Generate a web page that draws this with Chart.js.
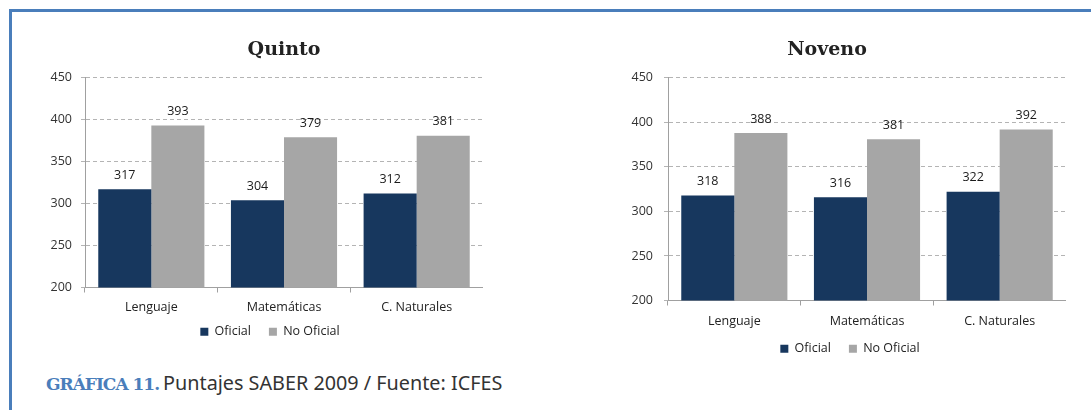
<!DOCTYPE html>
<html>
<head>
<meta charset="utf-8">
<script src="https://cdn.jsdelivr.net/npm/chart.js@4.4.1/dist/chart.umd.min.js"></script>
<style>
  html, body { margin: 0; padding: 0; background: #fff; }
  body { width: 1091px; height: 410px; position: relative; overflow: hidden; }
  .frameTop { position: absolute; left: 9px; top: 9px; width: 1082px; height: 3px; background: #4a7ebb; }
  .frameLeft { position: absolute; left: 9px; top: 9px; width: 3px; height: 401px; background: #4a7ebb; }
  canvas { position: absolute; }
  #chartQuinto { left: 20px; top: 30px; }
  #chartNoveno { left: 588px; top: 30px; }
  .caption { position: absolute; left: 46px; top: 370px; white-space: nowrap; color: #333; line-height: 26px; }
  .caption b { font-family: "DejaVu Serif", serif; font-size: 17px; letter-spacing: -1px; color: #4a7ebb; }
  .caption span { font-family: "Noto Sans", sans-serif; font-size: 19.8px; }
</style>
</head>
<body>
<div class="frameTop"></div>
<div class="frameLeft"></div>
<canvas id="chartQuinto" width="463" height="328"></canvas>
<canvas id="chartNoveno" width="478" height="341"></canvas>
<div class="caption"><b>GRÁFICA 11.</b> <span>Puntajes SABER 2009 / Fuente: ICFES</span></div>

<script>
// chart values
const materias = ['Lenguaje', 'Matemáticas', 'C. Naturales'];
const serieNombres = ['Oficial', 'No Oficial'];
const quintoOficial = [317, 304, 312];
const quintoNoOficial = [393, 379, 381];
const novenoOficial = [318, 316, 322];
const novenoNoOficial = [388, 381, 392];
const yMin = 200, yMax = 450, yStep = 50;

const colorOficial = '#17375e';
const colorNoOficial = '#a6a6a6';
const baseFont = '"Open Sans", sans-serif';

// numbers printed over each bar
const valueLabels = {
    id: 'valueLabels',
    afterDatasetsDraw(chart) {
        const ctx = chart.ctx;
        ctx.save();
        ctx.font = '12.5px ' + baseFont;
        ctx.fillStyle = '#1a1a1a';
        ctx.textAlign = 'center';
        ctx.textBaseline = 'middle';
        chart.data.datasets.forEach((ds, i) => {
            chart.getDatasetMeta(i).data.forEach((bar, j) => {
                ctx.fillText(ds.data[j], bar.x, bar.y - 14);
            });
        });
        ctx.restore();
    }
};

// the excel legend sits a bit left of the plot centre and close under the labels
const legendNudge = {
    id: 'legendNudge',
    afterLayout(chart, args, opts) {
        const lg = chart.legend;
        if (!lg) return;
        lg.left += opts.dx;
        lg.right += opts.dx;
        lg.top += opts.dy;
        lg.bottom += opts.dy;
    }
};

function makeChart(id, title, oficial, noOficial, cfg) {
    const ctx = document.getElementById(id).getContext('2d');
    return new Chart(ctx, {
        type: 'bar',
        data: {
            labels: materias,
            datasets: [
                { label: serieNombres[0], data: oficial, backgroundColor: colorOficial },
                { label: serieNombres[1], data: noOficial, backgroundColor: colorNoOficial }
            ]
        },
        options: {
            responsive: false,
            animation: false,
            devicePixelRatio: 1,
            categoryPercentage: 0.8,
            barPercentage: 1.0,
            layout: { padding: 0 },
            plugins: {
                title: {
                    display: true,
                    text: title,
                    fullSize: cfg.titleFull,
                    color: '#222',
                    font: { family: '"DejaVu Serif", serif', size: 19, weight: 'bold' },
                    padding: { top: 9, bottom: 16 }
                },
                legend: {
                    position: 'bottom',
                    fullSize: false,
                    labels: {
                        boxWidth: 8,
                        boxHeight: 8,
                        padding: 18,
                        color: '#222',
                        font: { family: baseFont, size: 12.5 }
                    }
                },
                tooltip: { enabled: false },
                legendNudge: { dx: cfg.legendDx, dy: cfg.legendDy }
            },
            scales: {
                x: {
                    grid: { display: true, drawOnChartArea: false, drawTicks: true, tickLength: 5, color: '#a0a0a0', offset: true },
                    border: { display: true, color: '#a0a0a0' },
                    ticks: { color: '#222', padding: cfg.xPad, font: { family: baseFont, size: 12.5 } },
                    afterFit(scale) { scale.height = 30; }
                },
                y: {
                    min: yMin,
                    max: yMax,
                    grid: { color: '#b4b4b4', tickLength: 4 },
                    border: { display: true, color: '#a0a0a0', dash: [4, 3] },
                    ticks: { stepSize: yStep, color: '#333', padding: cfg.yPad, font: { family: baseFont, size: 12.5 } },
                    afterFit(scale) { scale.width = cfg.yWidth; }
                }
            }
        },
        plugins: [valueLabels, legendNudge]
    });
}

makeChart('chartQuinto', 'Quinto', quintoOficial, quintoNoOficial,
    { titleFull: false, legendDx: -14, legendDy: -10, xPad: 7.5, yPad: 9, yWidth: 65 });
makeChart('chartNoveno', 'Noveno', novenoOficial, novenoNoOficial,
    { titleFull: true, legendDx: -17, legendDy: -6, xPad: 8.5, yPad: 11, yWidth: 80 });
</script>
</body>
</html>
